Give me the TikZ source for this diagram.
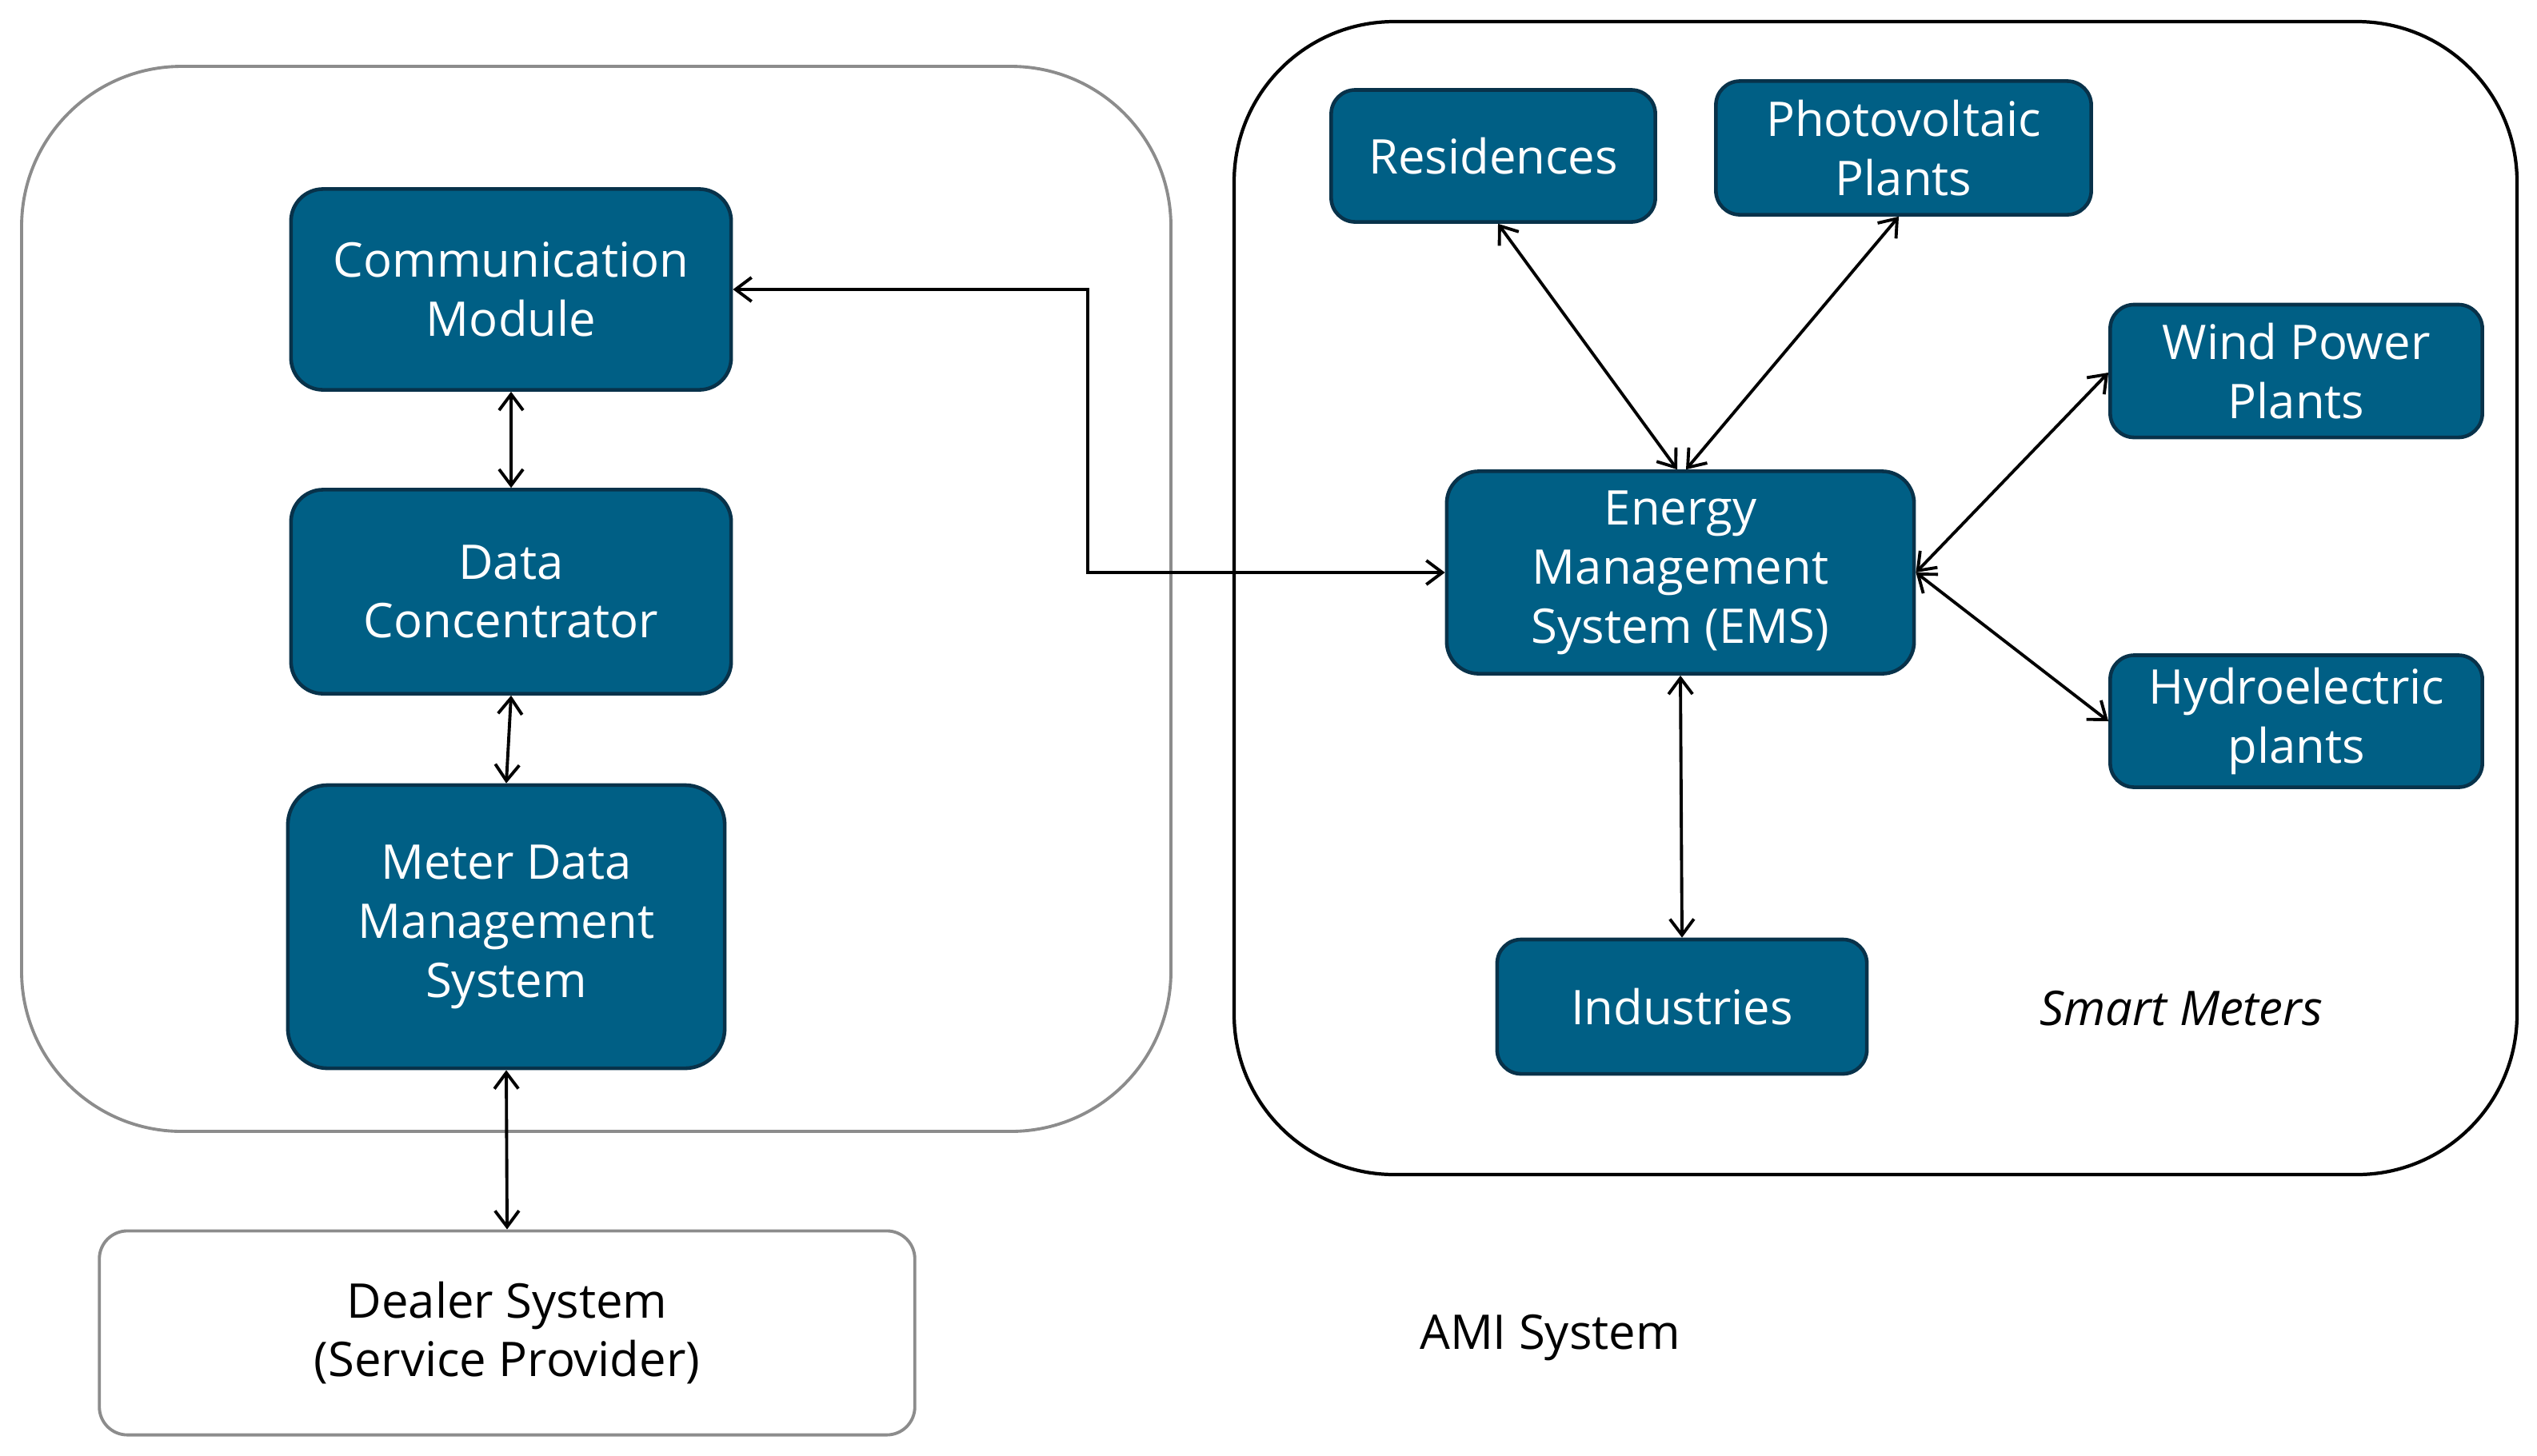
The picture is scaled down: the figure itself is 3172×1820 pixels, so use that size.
\documentclass[tikz,border=0pt]{standalone}
\usepackage{fontspec}
\setmainfont{Open Sans}
\usetikzlibrary{arrows.meta}
\definecolor{boxblue}{RGB}{0,95,133}
\definecolor{boxedge}{RGB}{8,50,74}
\definecolor{grayedge}{RGB}{140,140,140}
\begin{document}
\begin{tikzpicture}[x=0.01cm,y=-0.01cm,
  font=\fontsize{17}{21}\selectfont,
  bluebox/.style={draw=boxedge, line width=1.3pt, fill=boxblue, text=white,
    rounded corners=0.4cm, align=center, inner sep=0pt},
  whitebox/.style={draw=grayedge, line width=1.1pt, fill=white, text=black,
    rounded corners=0.35cm, align=center, inner sep=0pt},
  bi/.style={line width=1.1pt, {Straight Barb[length=0.2cm,width=0.3cm]}-{Straight Barb[length=0.2cm,width=0.3cm]}}
]
\useasboundingbox (0,0) rectangle (3172,1820);
% containers
\draw[grayedge, line width=1.1pt, rounded corners=2cm] (27,83) rectangle (1464,1415);
\draw[black, line width=1.2pt, rounded corners=2cm] (1543,27) rectangle (3147,1469);
% left nodes
\node[bluebox, minimum width=5.5cm, minimum height=2.51cm] (comm) at (639,362) {Communication\\Module};
\node[bluebox, minimum width=5.5cm, minimum height=2.55cm] (data) at (639,740) {Data\\Concentrator};
\node[bluebox, minimum width=5.46cm, minimum height=3.54cm, rounded corners=0.5cm] (mdms) at (633,1159) {Meter Data\\Management\\System};
\node[whitebox, minimum width=10.19cm, minimum height=2.55cm] (dealer) at (634,1667) {Dealer System\\(Service Provider)};
% right nodes
\node[bluebox, minimum width=4.05cm, minimum height=1.65cm, rounded corners=0.3cm] (res) at (1867,195) {Residences};
\node[bluebox, minimum width=4.69cm, minimum height=1.67cm, rounded corners=0.3cm] (pv) at (2380,185) {Photovoltaic\\Plants};
\node[bluebox, minimum width=4.65cm, minimum height=1.66cm, rounded corners=0.3cm] (wind) at (2871,464) {Wind Power\\Plants};
\node[bluebox, minimum width=5.84cm, minimum height=2.53cm] (ems) at (2101,716) {Energy\\Management\\System (EMS)};
\node[bluebox, minimum width=4.65cm, minimum height=1.65cm, rounded corners=0.3cm] (hydro) at (2871,902) {Hydroelectric\\plants};
\node[bluebox, minimum width=4.62cm, minimum height=1.68cm, rounded corners=0.3cm] (ind) at (2103,1259) {Industries};
% labels
\node (smart) at (2727,1261) {\itshape Smart Meters};
\node (ami) at (1938,1673) {AMI System};
% connectors
\coordinate (k1) at (1360,362);
\coordinate (k2) at (1360,716);
\draw[bi] (comm.east) -- (k1) -- (k2) -- (ems.west);
\draw[bi] (comm.south) -- (data.north);
\draw[bi] (data.south) -- (mdms.north);
\draw[bi] (mdms.south) -- (dealer.north);
\draw[bi] ([xshift=0.06cm]res.south) -- ([xshift=-0.04cm]ems.north);
\draw[bi] ([xshift=-0.06cm]pv.south) -- ([xshift=0.07cm]ems.north);
\draw[bi] (ems.east) -- ([yshift=-0.02cm]wind.west);
\draw[bi] (ems.east) -- (hydro.west);
\draw[bi] (ems.south) -- (ind.north);
\end{tikzpicture}
\end{document}
